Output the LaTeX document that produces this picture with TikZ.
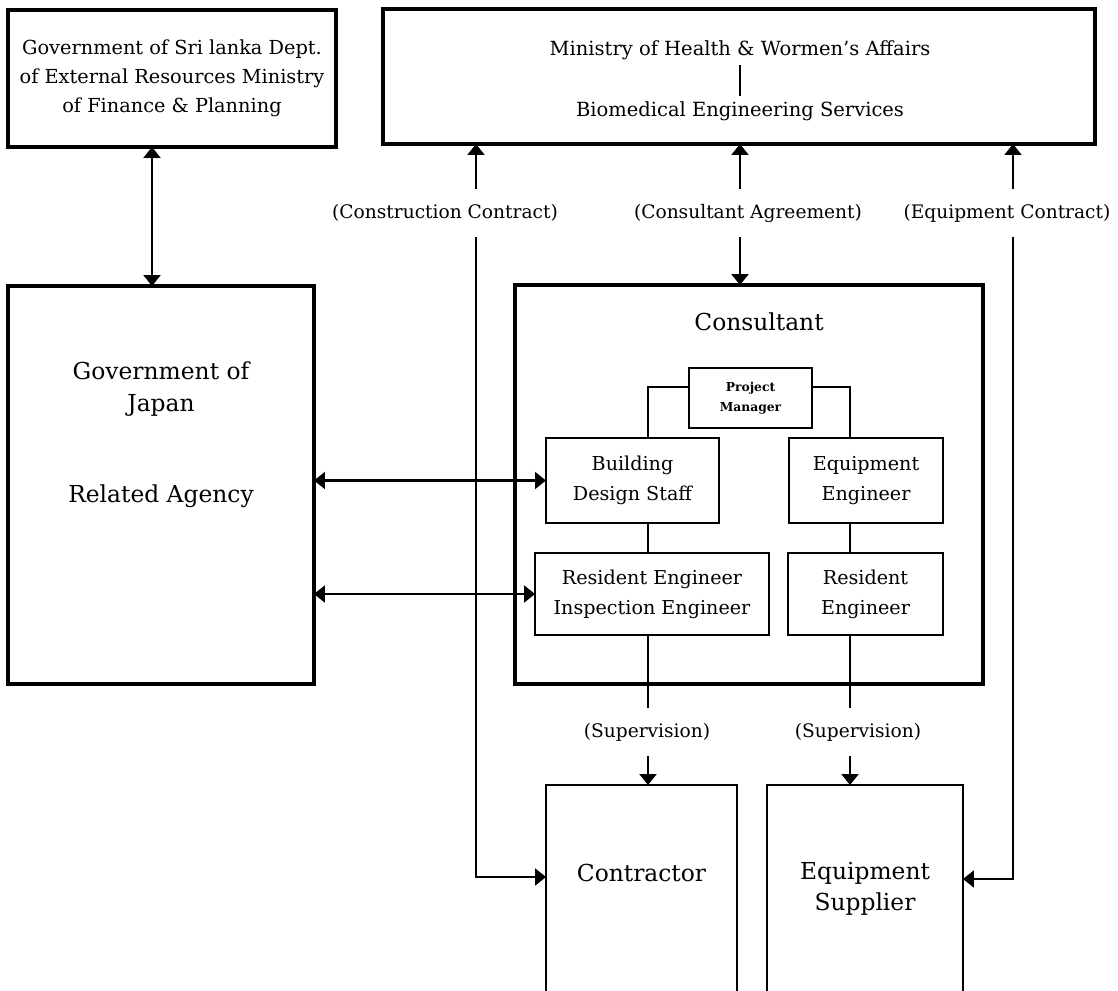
\documentclass[tikz,border=0pt]{standalone}
\usepackage{fontspec}
\setmainfont{DejaVu Serif}
\usetikzlibrary{arrows.meta,positioning}

\tikzset{
  outerbox/.style={draw, line width=2.2pt, inner sep=0pt, outer sep=0pt},
  innerbox/.style={draw, line width=1.3pt, inner sep=0pt, outer sep=0pt},
  openbox/.style={inner sep=0pt, outer sep=0pt},
  txt/.style={align=center, inner sep=0pt, font=\fontsize{10.9}{17}\selectfont},
  bigtxt/.style={align=center, inner sep=0pt, font=\fontsize{13.3}{18}\selectfont},
  tag/.style={inner xsep=2pt, inner ysep=0.3cm, font=\fontsize{10.6}{13}\selectfont},
  link/.style={line width=1.2pt},
  arr/.style={line width=1.2pt, -{Triangle[length=2.2mm,width=3.4mm]}},
  dbl/.style={line width=1.2pt, {Triangle[length=2.2mm,width=3.4mm]}-{Triangle[length=2.2mm,width=3.4mm]}},
}

\begin{document}
\begin{tikzpicture}[x=0.02cm, y=-0.02cm]
    \useasboundingbox (0,0) rectangle (1118,990);
    \clip (0,0) rectangle (1118,990);

    \node [outerbox, txt, font=\fontsize{11}{16.4}\selectfont,
           minimum width=6.56cm, minimum height=2.74cm] (srilanka) at (172,78.5)
          {Government of Sri lanka Dept.\\of External Resources Ministry\\of Finance \& Planning};
    \node [outerbox, minimum width=14.24cm, minimum height=2.7cm] (ministry) at (739,76.5) {};
    \node [txt, font=\fontsize{11.1}{17}\selectfont, inner sep=3pt] (mohwa) at (740,50) {Ministry of Health \& Wormen's Affairs};
    \node [txt, font=\fontsize{11.1}{17}\selectfont, inner sep=3pt] (bes) at (740,111) {Biomedical Engineering Services};

    \node [outerbox, minimum width=6.12cm, minimum height=7.96cm] (japan) at (161,485) {};
    \node [bigtxt] (gojtxt) at (161,389) {Government of\\Japan};
    \node [bigtxt] (ratxt) at (161,496) {Related Agency};

    \node [outerbox, minimum width=9.36cm, minimum height=7.98cm] (consultant) at (749,484.5) {};
    \node [bigtxt] (contitle) at (759,322) {Consultant};
    \node [innerbox, line width=1.1pt, align=center, font=\fontsize{7}{11.3}\selectfont\bfseries,
           minimum width=2.46cm, minimum height=1.2cm] (pm) at (750.5,398) {Project\\Manager};
    \node [innerbox, txt, minimum width=3.46cm, minimum height=1.7cm] (bds) at (632.5,480.5) {Building\\Design Staff};
    \node [innerbox, txt, minimum width=3.08cm, minimum height=1.7cm] (eqeng) at (866,480.5) {Equipment\\Engineer};
    \node [innerbox, txt, minimum width=4.68cm, minimum height=1.64cm] (reie) at (652,594) {Resident Engineer\\Inspection Engineer};
    \node [innerbox, txt, minimum width=3.1cm, minimum height=1.64cm] (reseng) at (865.5,594) {Resident\\Engineer};

    \node [openbox, minimum width=3.82cm, minimum height=3.68cm] (contr) at (641.5,877) {};
    \node [openbox, minimum width=3.92cm, minimum height=3.76cm] (eqsup) at (865,879) {};
    \node [bigtxt] (contrtxt) at (641.5,873) {Contractor};
    \node [bigtxt] (eqsuptxt) at (865,889) {Equipment\\Supplier};
    \draw [line width=1.3pt] ([yshift=-1cm]contr.south west) |- (contr.north east) -- ([yshift=-1cm]contr.south east);
    \draw [line width=1.3pt] ([yshift=-1cm]eqsup.south west) |- (eqsup.north east) -- ([yshift=-1cm]eqsup.south east);

    \node [tag] (cc) at (445,213) {(Construction Contract)};
    \node [tag] (ca) at (748,213) {(Consultant Agreement)};
    \node [tag] (ec) at (1007,213) {(Equipment Contract)};
    \node [tag] (sup1) at (647,732) {(Supervision)};
    \node [tag] (sup2) at (858,732) {(Supervision)};

    \coordinate (sx) at (152,0);
    \coordinate (cx) at (476,0);
    \coordinate (ax) at (740,0);
    \coordinate (ex) at (1013,0);
    \coordinate (lx) at (648,0);
    \coordinate (rx) at (850,0);

    \draw [link] (mohwa) -- (bes);
    \draw [dbl] (sx |- srilanka.south) -- (sx |- japan.north);
    \draw [arr] (cx |- cc.north) -- (cx |- ministry.south);
    \draw [arr] (cx |- cc.south) |- (contr.west);
    \draw [arr] (ax |- ca.north) -- (ax |- ministry.south);
    \draw [arr] (ax |- ca.south) -- (ax |- consultant.north);
    \draw [arr] (ex |- ec.north) -- (ex |- ministry.south);
    \draw [arr] (ex |- ec.south) |- (eqsup.east);
    \draw [dbl] (japan.east |- bds.west) -- (bds.west);
    \draw [dbl] (japan.east |- reie.west) -- (reie.west);
    \draw [link] ([yshift=0.22cm]pm.west) -| (lx |- bds.north);
    \draw [link] ([yshift=0.22cm]pm.east) -| (rx |- eqeng.north);
    \draw [link] (lx |- bds.south) -- (lx |- reie.north);
    \draw [link] (rx |- eqeng.south) -- (rx |- reseng.north);
    \draw [link] (lx |- reie.south) -- (lx |- sup1.north);
    \draw [arr] (lx |- sup1.south) -- (lx |- contr.north);
    \draw [link] (rx |- reseng.south) -- (rx |- sup2.north);
    \draw [arr] (rx |- sup2.south) -- (rx |- eqsup.north);
\end{tikzpicture}
\end{document}
